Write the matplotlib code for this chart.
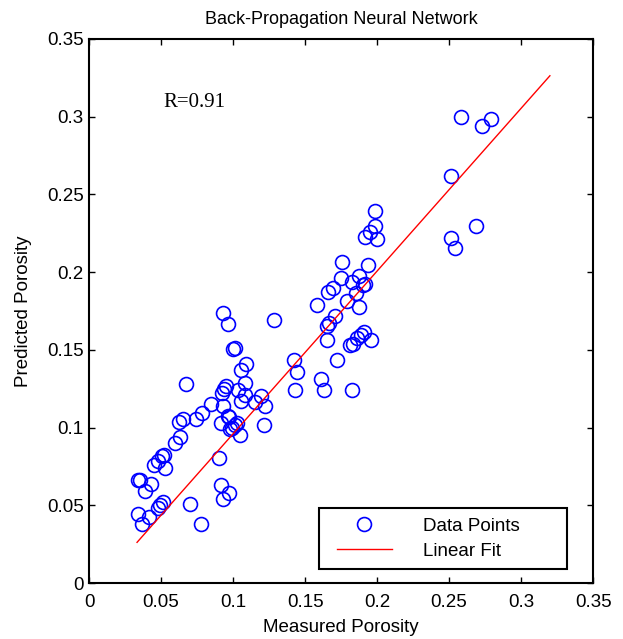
import numpy as np
import matplotlib
matplotlib.use("Agg")
import matplotlib.pyplot as plt
from matplotlib.lines import Line2D
from matplotlib.legend_handler import HandlerLine2D

matplotlib.rcParams.update({'font.family': 'Liberation Sans'})
matplotlib.rcParams.update({'font.size': 13})

# measured vs. predicted porosity
measured = [0.0338, 0.0366, 0.0341, 0.0357, 0.0388, 0.0432, 0.0418, 0.0451, 0.0478, 0.0506,
            0.0522, 0.0525, 0.0476, 0.0492, 0.0514, 0.0599, 0.0630, 0.0627, 0.0652, 0.0671,
            0.0740, 0.0786, 0.0704, 0.0775, 0.0850, 0.0899, 0.0918, 0.0932, 0.0973, 0.0918,
            0.0932, 0.0921, 0.0938, 0.0954, 0.0932, 0.0962, 0.0962, 0.0971, 0.0979, 0.0995,
            0.1012, 0.1026, 0.0998, 0.1012, 0.1034, 0.1048, 0.1056, 0.1092, 0.1081, 0.1056,
            0.1083, 0.1149, 0.1193, 0.1223, 0.1212, 0.1287, 0.1421, 0.1443, 0.1432, 0.1581,
            0.1608, 0.1630, 0.1650, 0.1652, 0.1669, 0.1707, 0.1661, 0.1691, 0.1724, 0.1749,
            0.1757, 0.1793, 0.1828, 0.1853, 0.1872, 0.1875, 0.1900, 0.1919, 0.1815, 0.1834,
            0.1861, 0.1886, 0.1908, 0.1958, 0.1828, 0.1938, 0.1914, 0.1952, 0.1988, 0.2002,
            0.1988, 0.2510, 0.2510, 0.2543, 0.2689, 0.2582, 0.2730, 0.2788]
predicted = [0.0445, 0.0377, 0.0660, 0.0665, 0.0592, 0.0639, 0.0424, 0.0757, 0.0786, 0.0817,
             0.0825, 0.0739, 0.0485, 0.0500, 0.0521, 0.0904, 0.0941, 0.1037, 0.1053, 0.1281,
             0.1056, 0.1092, 0.0511, 0.0377, 0.1153, 0.0804, 0.0629, 0.0542, 0.0582, 0.1027,
             0.1142, 0.1221, 0.1250, 0.1268, 0.1734, 0.1669, 0.1074, 0.1066, 0.0993, 0.0996,
             0.1014, 0.1027, 0.1504, 0.1509, 0.1242, 0.0951, 0.1368, 0.1407, 0.1289, 0.1171,
             0.1210, 0.1163, 0.1205, 0.1137, 0.1019, 0.1695, 0.1436, 0.1357, 0.1242, 0.1787,
             0.1315, 0.1242, 0.1564, 0.1656, 0.1674, 0.1719, 0.1871, 0.1897, 0.1436, 0.1960,
             0.2067, 0.1813, 0.1936, 0.1865, 0.1978, 0.1774, 0.1918, 0.1923, 0.1530, 0.1538,
             0.1577, 0.1598, 0.1616, 0.1561, 0.1242, 0.2043, 0.2224, 0.2258, 0.2298, 0.2214,
             0.2395, 0.2617, 0.2219, 0.2154, 0.2298, 0.2997, 0.2939, 0.2987]

# linear fit as drawn
fit_slope = 1.047
fit_intercept = -0.0087
fit_range = [0.0333, 0.32]

ticks = [0, 0.05, 0.1, 0.15, 0.2, 0.25, 0.3, 0.35]
tick_labels = ["0", "0.05", "0.1", "0.15", "0.2", "0.25", "0.3", "0.35"]

fig = plt.figure(figsize=(6.23, 6.39), dpi=100)
ax = fig.add_axes([0.143, 0.0876, 0.809, 0.8514])

ax.plot(measured, predicted, 'o', mfc='none', mec='#0000ff', mew=1.2, ms=10,
        label="Data Points")
fx = np.array(fit_range)
ax.plot(fx, fit_slope * fx + fit_intercept, '-', color='#ff0000', lw=1.0,
        label="Linear Fit")

ax.set_xlim(0, 0.35)
ax.set_ylim(0, 0.35)
ax.set_xticks(ticks, tick_labels)
ax.set_yticks(ticks, tick_labels)
ax.tick_params(direction='in', top=True, right=True, length=4, width=1, labelsize=13.5)
ax.tick_params(axis='x', pad=8)
ax.tick_params(axis='y', pad=4)
for s in ax.spines.values():
    s.set_linewidth(1.5)

ax.set_title("Back-Propagation Neural Network", fontsize=13, pad=11)
ax.set_xlabel("Measured Porosity", fontsize=13.5, labelpad=6)
ax.set_ylabel("Predicted Porosity", fontsize=13.5, labelpad=11)

ax.text(0.147, 0.884, "R=0.91", transform=ax.transAxes, family='Liberation Serif',
        fontsize=15, va='center', ha='left')

leg = ax.legend(loc='lower left', bbox_to_anchor=(0.456, 0.026, 0.492, 0.117),
                mode='expand', fancybox=False, framealpha=1, edgecolor='black',
                borderaxespad=0, handlelength=3.4, handletextpad=1.65,
                fontsize=13.5, borderpad=0.5, labelspacing=0.4,
                handler_map={Line2D: HandlerLine2D(xpad=0.46)})
leg.get_frame().set_linewidth(1.5)

fig.savefig("out.png", dpi=100)
